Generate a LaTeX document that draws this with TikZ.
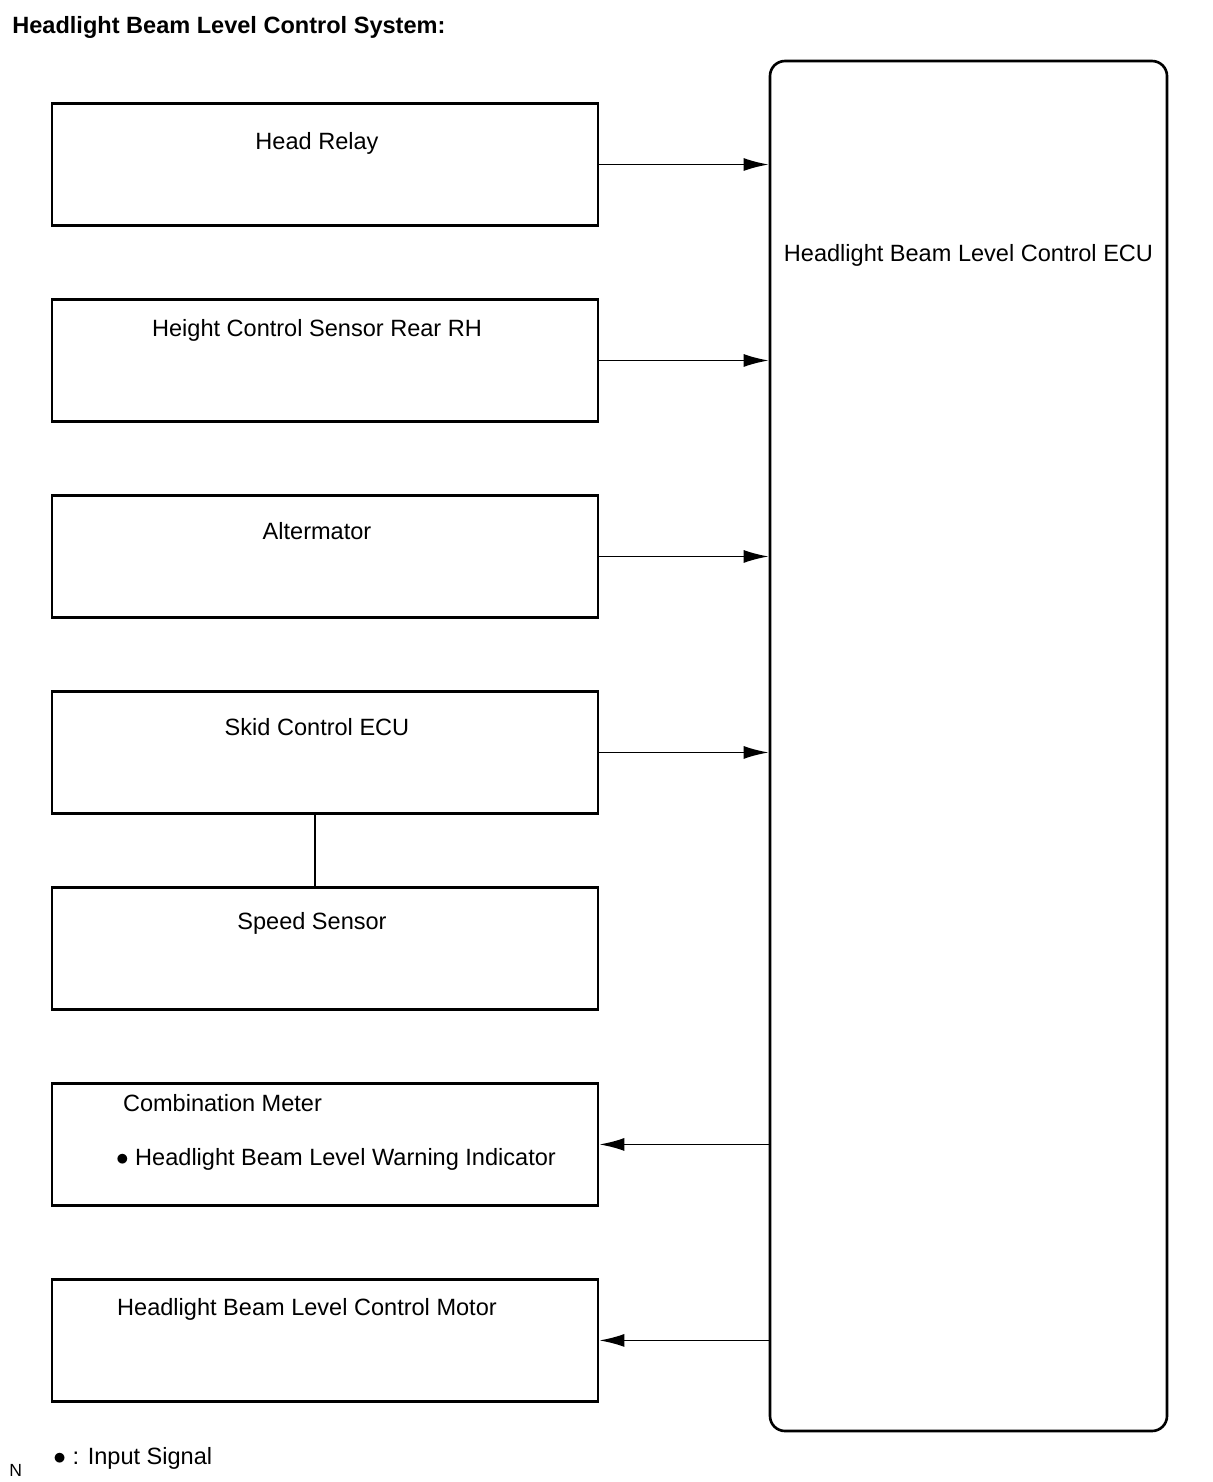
\documentclass[tikz,border=0pt]{standalone}
\usepackage{fontspec}
\setmainfont{Liberation Sans}
\usetikzlibrary{arrows.meta,positioning}

\begin{document}
\begin{tikzpicture}[
  font=\fontsize{13.4}{16}\selectfont,
  unit/.style={
    draw,
    line width=1.5pt,
    minimum width=10.92cm,
    minimum height=2.45cm,
    inner sep=0pt
  },
  caption/.style={anchor=center,yshift=-0.74cm,xshift=-0.16cm},
  ecu/.style={
    draw,
    line width=1.5pt,
    rounded corners=0.3cm,
    minimum width=7.94cm,
    minimum height=27.4cm,
    inner sep=0pt
  },
  sig/.style={-{Latex[length=0.5cm,width=0.26cm]},line width=1pt}
]
  \useasboundingbox (0,0) rectangle (24.24,-29.64);
  \node[anchor=west,inner sep=0pt,font=\fontsize{13.4}{16}\selectfont\bfseries] (title)
    at (0.24,-0.54) {Headlight Beam Level Control System:};

  % input side
  \node[unit,label={[caption,yshift=-0.08cm]north:Head Relay}] (relay) at (6.5,-3.29) {};
  \node[unit,label={[caption,yshift=0.1cm]north:Height Control Sensor Rear RH},below=1.417cm of relay] (height) {};
  \node[unit,label={[caption]north:Altermator},below=1.417cm of height] (alt) {};
  \node[unit,label={[caption]north:Skid Control ECU},below=1.417cm of alt] (skid) {};
  \node[unit,label={[caption,xshift=-0.1cm,yshift=-0.02cm]north:Speed Sensor},below=1.417cm of skid] (speed) {};

  % output side
  \node[unit,below=1.417cm of speed] (meter) {};
  \node[anchor=west,inner sep=0pt] (metertitle)
    at ([shift={(1.44,-0.42)}]meter.north west) {Combination Meter};
  \node[anchor=west,inner sep=0pt] (meterlamp)
    at ([shift={(1.3,-1.56)}]meter.north west) {$\bullet$ Headlight Beam Level Warning Indicator};
  \node[unit,label={[caption,xshift=-0.2cm,yshift=0.1cm]north:Headlight Beam Level Control Motor},below=1.417cm of meter] (motor) {};

  \node[ecu,label={[anchor=center,yshift=-3.92cm]north:Headlight Beam Level Control ECU}] (ecu)
    at (19.37,-14.92) {};

  \foreach \src in {relay,height,alt,skid}
    \draw[sig] (\src.east) -- (\src.east -| ecu.west);
  \foreach \dst in {meter,motor}
    \draw[sig] (\dst.east -| ecu.west) -- (\dst.east);
  \draw[line width=1pt] ([xshift=-0.2cm]skid.south) -- ([xshift=-0.2cm]speed.north);

  % legend
  \node[anchor=west,inner sep=0pt] (legend) at (1.06,-29.16) {$\bullet$ : Input Signal};
  \node[anchor=west,inner sep=0pt,font=\fontsize{10}{12}\selectfont] (mark) at (0.18,-29.4) {N};
\end{tikzpicture}
\end{document}
